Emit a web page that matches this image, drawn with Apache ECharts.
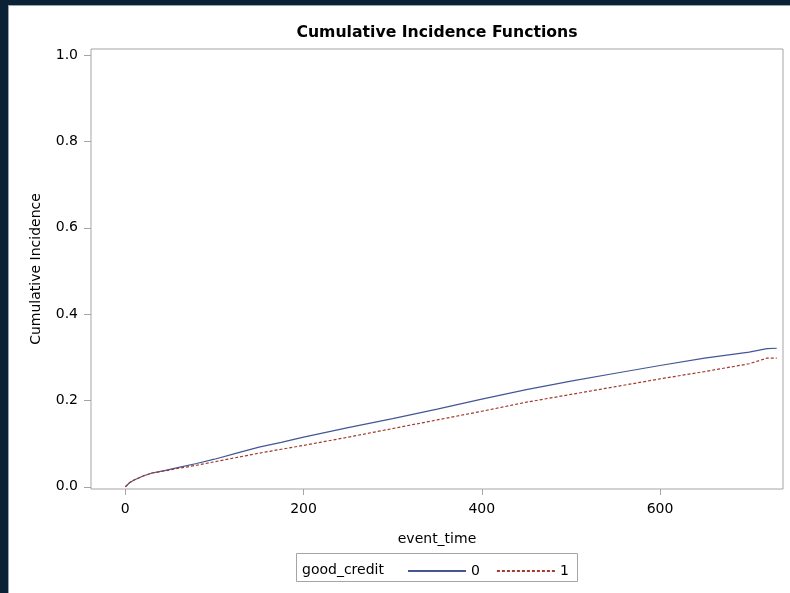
<!DOCTYPE html>
<html lang="en">
<head>
<meta charset="UTF-8">
<title>Cumulative Incidence Functions</title>
<script src="https://cdn.jsdelivr.net/npm/echarts@6/dist/echarts.min.js"></script>
<style>
  html, body { margin: 0; padding: 0; background: #fff; }
  #chart { width: 790px; height: 593px; }
</style>
</head>
<body>
<div id="chart"></div>
<script>
// event times (days) where the curves were read
var times = [0, 5, 10, 20, 30, 45, 60, 80, 100, 125, 150, 175, 200, 250, 300,
             350, 400, 450, 500, 550, 600, 650, 700, 720, 731];
// good_credit = 0
var cif0 = [0, 0.010, 0.016, 0.025, 0.032, 0.038, 0.045, 0.054, 0.064, 0.078, 0.092,
            0.103, 0.115, 0.137, 0.158, 0.180, 0.203, 0.225, 0.245, 0.263, 0.281,
            0.298, 0.312, 0.320, 0.321];
// good_credit = 1
var cif1 = [0, 0.010, 0.016, 0.025, 0.032, 0.037, 0.043, 0.050, 0.058, 0.068, 0.078,
            0.087, 0.096, 0.115, 0.135, 0.155, 0.175, 0.196, 0.214, 0.232, 0.250,
            0.267, 0.285, 0.298, 0.298];
var xTicks = [0, 200, 400, 600];
var yTicks = [0, 0.2, 0.4, 0.6, 0.8, 1.0];

function pairs(xs, ys) {
    var res = [];
    for (var i = 0; i < xs.length; i++) res.push([xs[i], ys[i]]);
    return res;
}

var font = 'DejaVu Sans';
var grey = '#a5a5a5';
var chart = echarts.init(document.getElementById('chart'));

var option = {
    backgroundColor: '#fff',
    animation: false,
    textStyle: { fontFamily: font },
    title: {
        text: 'Cumulative Incidence Functions',
        left: 432, top: 20, textAlign: 'center',
        textStyle: { fontSize: 15.7, fontWeight: 'bold', color: '#000', fontFamily: font }
    },
    grid: {
        left: 91, right: 7, top: 49, bottom: 104,
        show: true, borderColor: grey, borderWidth: 1, backgroundColor: '#fff'
    },
    legend: {
        left: 402, top: 559,
        itemWidth: 58, itemHeight: 10, itemGap: 16,
        itemStyle: { opacity: 0 },
        textStyle: { fontSize: 14, color: '#000', fontFamily: font },
        data: ['0', '1']
    },
    xAxis: {
        type: 'value', min: -38.5, max: 738,
        name: 'event_time', nameLocation: 'middle', nameGap: 43,
        nameTextStyle: { fontSize: 14, color: '#000', fontFamily: font },
        axisLine: { show: false, onZero: false },
        splitLine: { show: false },
        axisTick: { show: true, length: 6, customValues: xTicks, lineStyle: { color: grey } },
        axisLabel: { customValues: xTicks, margin: 13, fontSize: 14, color: '#000', fontFamily: font }
    },
    yAxis: {
        type: 'value', min: -0.005, max: 1.014,
        name: 'Cumulative Incidence', nameLocation: 'middle', nameGap: 48,
        nameTextStyle: { fontSize: 14, color: '#000', fontFamily: font },
        axisLine: { show: false, onZero: false },
        splitLine: { show: false },
        axisTick: { show: true, length: 7, customValues: yTicks, lineStyle: { color: grey } },
        axisLabel: {
            customValues: yTicks, margin: 13, fontSize: 14, color: '#000', fontFamily: font,
            formatter: function (v) { return v.toFixed(1); }
        }
    },
    series: [
        {
            name: '0', type: 'line', showSymbol: false, symbol: 'none',
            data: pairs(times, cif0),
            lineStyle: { color: '#445694', width: 1.2 },
            itemStyle: { color: '#445694' }
        },
        {
            name: '1', type: 'line', showSymbol: false, symbol: 'none',
            data: pairs(times, cif1),
            lineStyle: { color: '#A23A2E', width: 1.2, type: [3, 2] },
            itemStyle: { color: '#A23A2E' }
        }
    ],
    graphic: [
        // dark page frame
        { type: 'rect', shape: { x: 0, y: 0, width: 8, height: 593 }, style: { fill: '#0b2136' }, z: 100 },
        { type: 'rect', shape: { x: 0, y: 0, width: 790, height: 5 }, style: { fill: '#0b2136' }, z: 100 },
        { type: 'line', shape: { x1: 8.5, y1: 5, x2: 8.5, y2: 593 }, style: { stroke: '#9aa3ad', lineWidth: 1 }, z: 100 },
        { type: 'line', shape: { x1: 8, y1: 5.5, x2: 790, y2: 5.5 }, style: { stroke: '#9aa3ad', lineWidth: 1 }, z: 100 },
        // legend box
        { type: 'rect', shape: { x: 296.5, y: 553.5, width: 281, height: 28 }, style: { fill: 'none', stroke: grey, lineWidth: 1 } },
        { type: 'text', x: 302, y: 570, style: { text: 'good_credit', fontSize: 14, fill: '#000', fontFamily: font, verticalAlign: 'middle' } }
    ]
};
chart.setOption(option);
</script>
</body>
</html>
